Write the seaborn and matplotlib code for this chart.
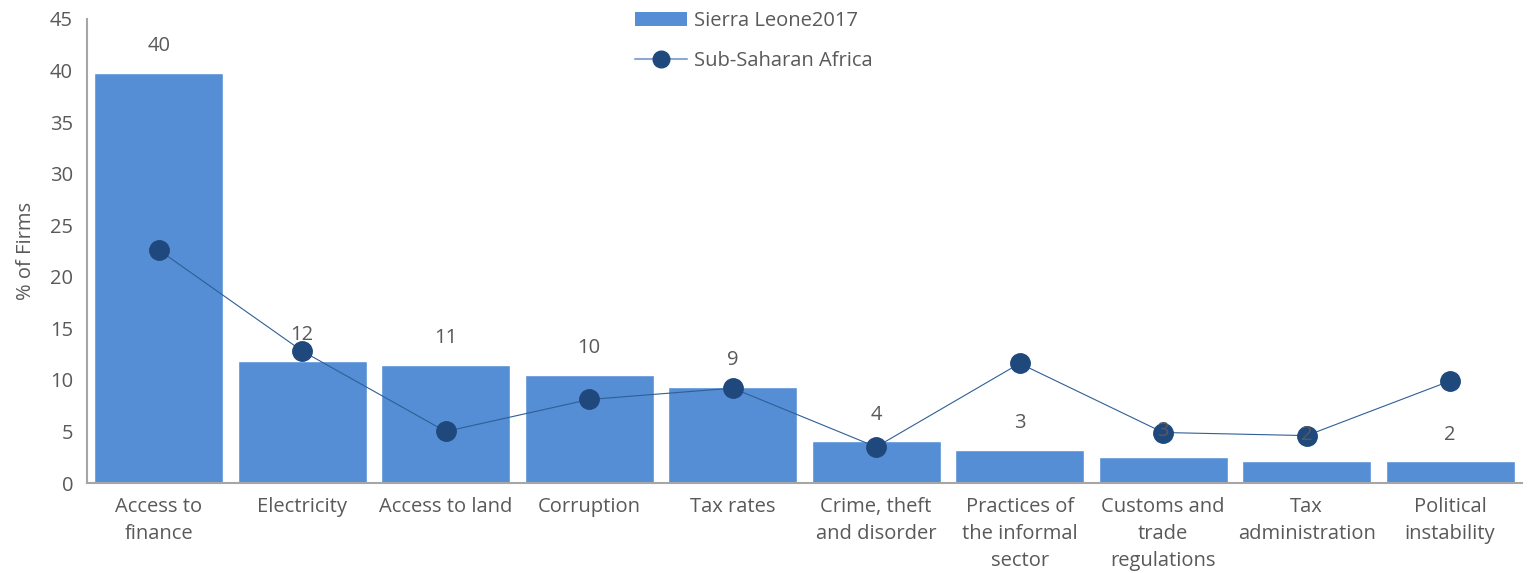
import matplotlib
matplotlib.use("Agg")
import matplotlib.pyplot as plt
import seaborn as sns
import pandas as pd
from matplotlib.patches import Patch
from matplotlib.lines import Line2D

categories = ["Access to\nfinance", "Electricity", "Access to land", "Corruption", "Tax rates",
              "Crime, theft\nand disorder", "Practices of\nthe informal\nsector",
              "Customs and\ntrade\nregulations", "Tax\nadministration", "Political\ninstability"]
sierra_leone = [39.8, 11.8, 11.45, 10.5, 9.3, 4.05, 3.2, 2.5, 2.1, 2.1]
bar_labels = ["40", "12", "11", "10", "9", "4", "3", "3", "2", "2"]
ssa = [22.6, 12.8, 5.0, 8.1, 9.2, 3.5, 11.6, 4.9, 4.6, 9.9]
yticks = [0, 5, 10, 15, 20, 25, 30, 35, 40, 45]

sns.set_theme(style="white")
plt.rcParams['font.family'] = ['Open Sans', 'DejaVu Sans']
text_color = "#595959"
fs = 14.5

df = pd.DataFrame({"cat": categories, "sl": sierra_leone, "ssa": ssa})

fig = plt.figure(figsize=(15.28, 5.73), dpi=100)
ax = fig.add_axes([0.0569, 0.157, 0.9391, 0.81])

bar_color = "#558ED5"
line_color = "#2F5F96"
marker_color = "#1F497D"

sns.barplot(data=df, x="cat", y="sl", color=bar_color, width=0.9, ax=ax, saturation=1)
ax.plot(range(len(categories)), ssa, color=line_color, linewidth=0.8, marker="o",
        markersize=14, markerfacecolor=marker_color, markeredgecolor=marker_color, zorder=3)

ax.bar_label(ax.containers[0], labels=bar_labels, padding=12, fontsize=fs, color=text_color)

ax.set_xlim(-0.5, 9.5)
ax.set_ylim(0, 45)
ax.set_yticks(yticks)
ax.set_xlabel("")
ax.set_ylabel("% of Firms", fontsize=fs, color=text_color, labelpad=10)
ax.tick_params(axis="both", colors=text_color, labelsize=fs, length=0)
ax.tick_params(axis="y", pad=10)
ax.tick_params(axis="x", pad=10)
for lab in ax.get_xticklabels():
    lab.set_linespacing(1.48)

for s in ["top", "right"]:
    ax.spines[s].set_visible(False)
for s in ["left", "bottom"]:
    ax.spines[s].set_color("#A6A6A6")
    ax.spines[s].set_linewidth(1.5)

handles = [Patch(facecolor=bar_color, edgecolor="none"),
           Line2D([0], [0], color="#8EA9CF", linewidth=1.5, marker="o", markersize=12,
                  markerfacecolor=marker_color, markeredgecolor=marker_color)]
leg = fig.legend(handles, ["Sierra Leone2017", "Sub-Saharan Africa"], loc="upper left",
                 bbox_to_anchor=(0.4156, 0.98), frameon=False, fontsize=fs, handlelength=2.6,
                 labelspacing=0.95, handletextpad=0.35, borderpad=0, borderaxespad=0)
for t in leg.get_texts():
    t.set_color(text_color)

fig.savefig("out.png", dpi=100)
